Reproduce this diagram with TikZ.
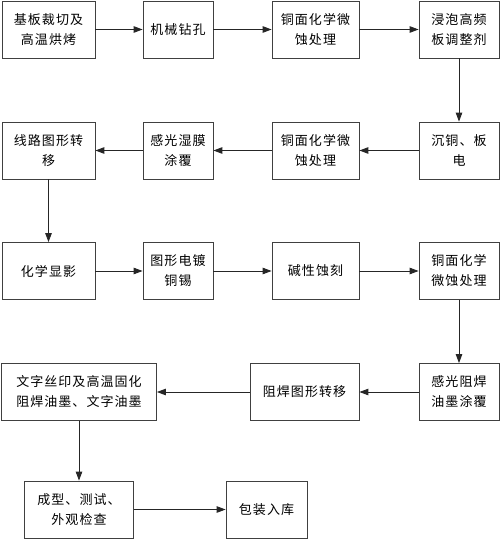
\documentclass[tikz,border=0pt]{standalone}
\usepackage{fontspec}
\setmainfont{Noto Sans CJK SC}[LetterSpace=8]
\usetikzlibrary{arrows.meta}
\begin{document}
\begin{tikzpicture}[x=1pt,y=-1pt,
  box/.style={draw=black!75,line width=0.8pt,align=center,inner sep=0pt,
    minimum height=57pt,font=\fontsize{13}{20}\selectfont},
  flow/.style={draw=black!85,line width=0.9pt,-{Triangle[length=9pt,width=6.5pt]}}]
\useasboundingbox[fill=white] (0,0) rectangle (500,540);
% row 1
\node[box,minimum width=93pt] (cut) at (48.5,29.5) {基板裁切及\\高温烘烤};
\node[box,minimum width=70pt] (drill) at (178,29.5) {机械钻孔};
\node[box,minimum width=87pt] (etcha) at (315.5,29.5) {铜面化学微\\蚀处理};
\node[box,minimum width=80pt] (soak) at (459,29.5) {浸泡高频\\板调整剂};
% row 2
\node[box,minimum width=80pt] (plate) at (459,150.5) {沉铜、板\\电};
\node[box,minimum width=87pt] (etchb) at (315.5,150.5) {铜面化学微\\蚀处理};
\node[box,minimum width=70pt] (film) at (178,150.5) {感光湿膜\\涂覆};
\node[box,minimum width=93pt] (trans) at (48.5,150.5) {线路图形转\\移};
% row 3
\node[box,minimum width=93pt] (develop) at (48.5,271) {化学显影};
\node[box,minimum width=70pt] (tin) at (178,271) {图形电镀\\铜锡};
\node[box,minimum width=87pt] (alkali) at (315.5,271) {碱性蚀刻};
\node[box,minimum width=80pt] (etchc) at (459,271) {铜面化学\\微蚀处理};
% row 4
\node[box,minimum width=80pt] (mask) at (459,392) {感光阻焊\\油墨涂覆};
\node[box,minimum width=109pt] (maskpat) at (304.5,392) {阻焊图形转移};
\node[box,minimum width=155pt] (print) at (79,392) {文字丝印及高温固化\\阻焊油墨、文字油墨};
% row 5
\node[box,minimum width=109pt] (test) at (79,509.5) {成型、测试、\\外观检查};
\node[box,minimum width=81pt] (pack) at (266.5,509.5) {包装入库};
% arrows
\draw[flow] (cut) -- (drill);
\draw[flow] (drill) -- (etcha);
\draw[flow] (etcha) -- (soak);
\draw[flow] (soak) -- (plate);
\draw[flow] (plate) -- (etchb);
\draw[flow] (etchb) -- (film);
\draw[flow] (film) -- (trans);
\draw[flow] (trans) -- (develop);
\draw[flow] (develop) -- (tin);
\draw[flow] (tin) -- (alkali);
\draw[flow] (alkali) -- (etchc);
\draw[flow] (etchc) -- (mask);
\draw[flow] (mask) -- (maskpat);
\draw[flow] (maskpat) -- (print);
\draw[flow] (print) -- (test);
\draw[flow] (test) -- (pack);
\end{tikzpicture}
\end{document}
